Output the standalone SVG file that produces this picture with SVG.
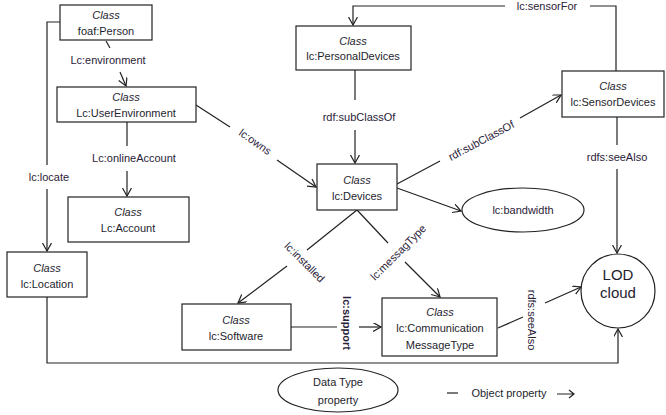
<svg xmlns="http://www.w3.org/2000/svg" width="666" height="415" viewBox="0 0 666 415">
<style>
  .box{fill:#fff;stroke:#222;stroke-width:1.2}
  .ell{fill:#fff;stroke:#222;stroke-width:1.2}
  .t{font-family:"Liberation Sans",Arial,sans-serif;font-size:11px;fill:#1e1e2e;text-anchor:middle}
  .ti{font-style:italic}
  .lbl{font-family:"Liberation Sans",Arial,sans-serif;font-size:11px;fill:#2a2238;text-anchor:middle}
  .big{font-size:15px}
  .c{fill:none;stroke:#222;stroke-width:1.2}
</style>
<defs>
  <marker id="arr" markerUnits="userSpaceOnUse" markerWidth="12" markerHeight="12" refX="8" refY="4.5" orient="auto">
    <path d="M0,0 L8,4.5 L0,9" fill="none" stroke="#222" stroke-width="1.2"/>
  </marker>
</defs>
<rect width="666" height="415" fill="#fff"/>

<g id="connectors">
  <!-- Lc:environment -->
  <path class="c" d="M106,41 L110,48"/>
  <path class="c" d="M120,72 L126,86" marker-end="url(#arr)"/>
  <text class="lbl" x="108" y="64">Lc:environment</text>
  <!-- lc:locate -->
  <path class="c" d="M60,22 H47 V165"/>
  <path class="c" d="M47,189 V251" marker-end="url(#arr)"/>
  <text class="lbl" x="49" y="181">lc:locate</text>
  <!-- Lc:onlineAccount -->
  <path class="c" d="M127,122 V146"/>
  <path class="c" d="M127,171 V196" marker-end="url(#arr)"/>
  <text class="lbl" x="134" y="162">Lc:onlineAccount</text>
  <!-- lc:owns -->
  <path class="c" d="M196,105 L230,127"/>
  <path class="c" d="M277,160 L316,187" marker-end="url(#arr)"/>
  <text class="lbl" transform="translate(253,145) rotate(35)">lc:owns</text>
  <!-- rdf:subClassOf vertical -->
  <path class="c" d="M355,70 V100"/>
  <path class="c" d="M355,130 V163" marker-end="url(#arr)"/>
  <text class="lbl" x="359" y="121">rdf:subClassOf</text>
  <!-- lc:sensorFor -->
  <path class="c" d="M616,71 V6 H590"/>
  <path class="c" d="M505,6 H353 V25" marker-end="url(#arr)"/>
  <text class="lbl" x="547" y="10">lc:sensorFor</text>
  <!-- rdf:subClassOf diagonal -->
  <path class="c" d="M397,184 L440,161"/>
  <path class="c" d="M520,118 L561,95" marker-end="url(#arr)"/>
  <text class="lbl" transform="translate(483,144) rotate(-28)">rdf:subClassOf</text>
  <!-- bandwidth -->
  <path class="c" d="M397,188 L461,211" marker-end="url(#arr)"/>
  <!-- lc:installed -->
  <path class="c" d="M357,210 L307,250"/>
  <path class="c" d="M287,266 L238,303" marker-end="url(#arr)"/>
  <text class="lbl" transform="translate(302,265) rotate(45)">lc:installed</text>
  <!-- lc:messagType -->
  <path class="c" d="M357,210 L388,243"/>
  <path class="c" d="M405,262 L440,297" marker-end="url(#arr)"/>
  <text class="lbl" transform="translate(401,255) rotate(-45)">lc:messagType</text>
  <!-- lc:support -->
  <path class="c" d="M291,327 H337"/>
  <path class="c" d="M359,327 H381" marker-end="url(#arr)"/>
  <text class="lbl" font-weight="bold" transform="translate(343,323) rotate(90)">lc:support</text>
  <!-- rdfs:seeAlso bottom -->
  <path class="c" d="M498,328 L523,317"/>
  <path class="c" d="M545,303 L581,287" marker-end="url(#arr)"/>
  <text class="lbl" transform="translate(528,320) rotate(90)">rdfs:seeAlso</text>
  <!-- rdfs:seeAlso right -->
  <path class="c" d="M617,117 V145"/>
  <path class="c" d="M617,169 V253" marker-end="url(#arr)"/>
  <text class="lbl" x="617" y="161">rdfs:seeAlso</text>
  <!-- Location to LOD -->
  <path class="c" d="M47,297 V363 H618 V329" marker-end="url(#arr)"/>
</g>

<g id="person">
  <rect class="box" x="60" y="5" width="92" height="35"/>
  <text class="t ti" x="106" y="19">Class</text>
  <text class="t" x="106" y="35">foaf:Person</text>
</g>
<g id="userEnvironment">
  <rect class="box" x="57" y="87" width="139" height="35"/>
  <text class="t ti" x="126" y="101">Class</text>
  <text class="t" x="126" y="117">Lc:UserEnvironment</text>
</g>
<g id="account">
  <rect class="box" x="68" y="197" width="121" height="45"/>
  <text class="t ti" x="128" y="216">Class</text>
  <text class="t" x="128" y="232">Lc:Account</text>
</g>
<g id="location">
  <rect class="box" x="7" y="252" width="80" height="45"/>
  <text class="t ti" x="47" y="272">Class</text>
  <text class="t" x="47" y="288">lc:Location</text>
</g>
<g id="personalDevices">
  <rect class="box" x="296" y="26" width="115" height="44"/>
  <text class="t ti" x="353" y="45">Class</text>
  <text class="t" x="353" y="60">lc:PersonalDevices</text>
</g>
<g id="sensorDevices">
  <rect class="box" x="562" y="71" width="102" height="46"/>
  <text class="t ti" x="613" y="90">Class</text>
  <text class="t" x="613" y="106">lc:SensorDevices</text>
</g>
<g id="devices">
  <rect class="box" x="317" y="164" width="80" height="46"/>
  <text class="t ti" x="357" y="184">Class</text>
  <text class="t" x="357" y="200">lc:Devices</text>
</g>
<g id="bandwidth">
  <ellipse class="ell" cx="523" cy="210" rx="61" ry="22"/>
  <text class="lbl" x="523" y="214">lc:bandwidth</text>
</g>
<g id="software">
  <rect class="box" x="182" y="304" width="109" height="46"/>
  <text class="t ti" x="236" y="324">Class</text>
  <text class="t" x="236" y="340">lc:Software</text>
</g>
<g id="communication">
  <rect class="box" x="382" y="298" width="115" height="58"/>
  <text class="t ti" x="440" y="316">Class</text>
  <text class="t" x="440" y="332">lc:Communication</text>
  <text class="t" x="440" y="349">MessageType</text>
</g>
<g id="lodCloud">
  <circle class="ell" cx="618" cy="291" r="37"/>
  <text class="t big" x="618" y="280">LOD</text>
  <text class="t big" x="618" y="298">cloud</text>
</g>
<g id="legend">
  <ellipse class="ell" cx="338" cy="390" rx="60" ry="22"/>
  <text class="t" x="338" y="386">Data Type</text>
  <text class="t" x="338" y="404">property</text>
  <path class="c" d="M447,393 H458"/>
  <text class="t" x="509" y="397">Object property</text>
  <path class="c" d="M557,394 H574 M569,390 L574,394 L569,398"/>
</g>
</svg>
